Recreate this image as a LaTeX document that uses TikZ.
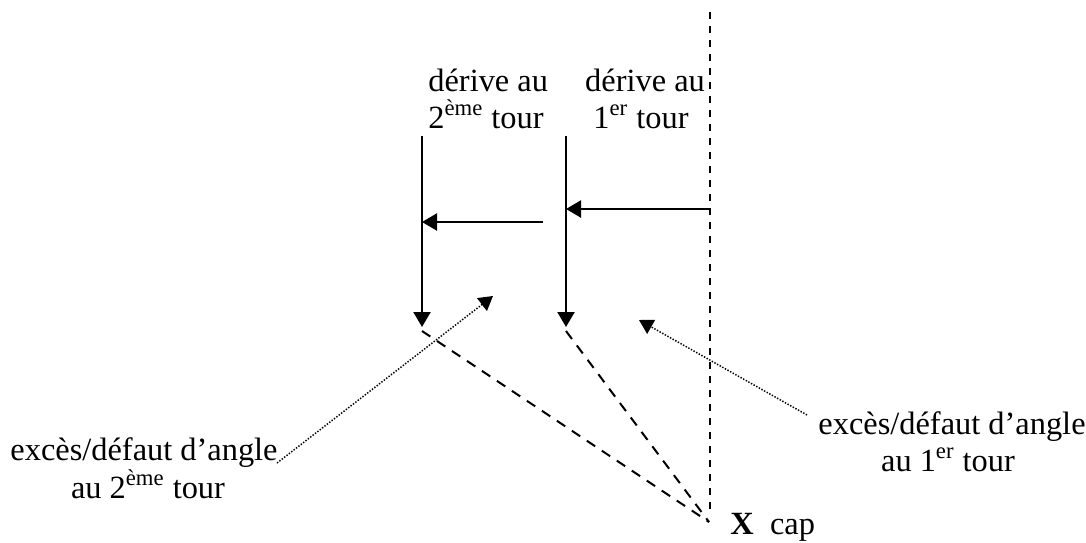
\documentclass[tikz,border=0pt]{standalone}
\usepackage{fontspec}
\setmainfont{Liberation Serif}
\usetikzlibrary{arrows.meta}
\tikzset{
  lbl/.style={inner sep=0pt, font=\fontsize{16.2}{18.5}\selectfont},
  solidarrow/.style={line width=1.1pt, -{Triangle[length=7.5pt,width=8.5pt]}},
  dashline/.style={line width=1pt, dash pattern=on 3.5pt off 3.5pt},
  dotarrow/.style={line width=0.75pt, dash pattern=on 0.7pt off 0.8pt, -{Triangle[length=7pt,width=8pt]}},
}
\begin{document}
\begin{tikzpicture}[x=0.5pt,y=-0.5pt]
\useasboundingbox (0,0) rectangle (1086,542);
% coordinates
\coordinate (v1top) at (422,136);
\coordinate (v1tip) at (422,327);
\coordinate (v2top) at (566,136);
\coordinate (v2tip) at (566,327);
\coordinate (h1start) at (710,209);
\coordinate (h1tip) at (566,209);
\coordinate (h2start) at (543,222);
\coordinate (h2tip) at (422,222);
\coordinate (captop) at (710,12);
\coordinate (capbot) at (710,512);
\coordinate (d1start) at (422,331);
\coordinate (d2start) at (566,331);
\coordinate (conv) at (709,522);
\coordinate (dot1start) at (277,463);
\coordinate (dot1tip) at (493,296);
\coordinate (dot2start) at (807,415);
\coordinate (dot2tip) at (639,320);
% texts
\node[lbl, anchor=base west] (t2a) at (428,91) {dérive au};
\node[lbl, anchor=base west] (t2b) at (428,128) {2\textsuperscript{ème} tour};
\node[lbl, anchor=base] (t1a) at (645,91) {dérive au};
\node[lbl, anchor=base] (t1b) at (641,128) {1\textsuperscript{er} tour};
\node[lbl, anchor=base] (e2a) at (144,460) {excès/défaut d’angle};
\node[lbl, anchor=base] (e2b) at (148,498) {au 2\textsuperscript{ème} tour};
\node[lbl, anchor=base] (e1a) at (952,434) {excès/défaut d’angle};
\node[lbl, anchor=base] (e1b) at (948,471) {au 1\textsuperscript{er} tour};
\node[lbl, anchor=base west] (cap) at (730,534) {\textbf{X}\ \ cap};
% drawing
\draw[dashline] (captop) -- (capbot);
\draw[solidarrow] (v1top) -- (v1tip);
\draw[solidarrow] (v2top) -- (v2tip);
\draw[solidarrow] (h1start) -- (h1tip);
\draw[solidarrow] (h2start) -- (h2tip);
\draw[dashline, dash pattern=on 5pt off 4pt] (d1start) -- (conv);
\draw[dashline, dash pattern=on 5pt off 4pt] (d2start) -- (conv);
\draw[dotarrow] (dot1start) -- (dot1tip);
\draw[dotarrow] (dot2start) -- (dot2tip);
\end{tikzpicture}
\end{document}
